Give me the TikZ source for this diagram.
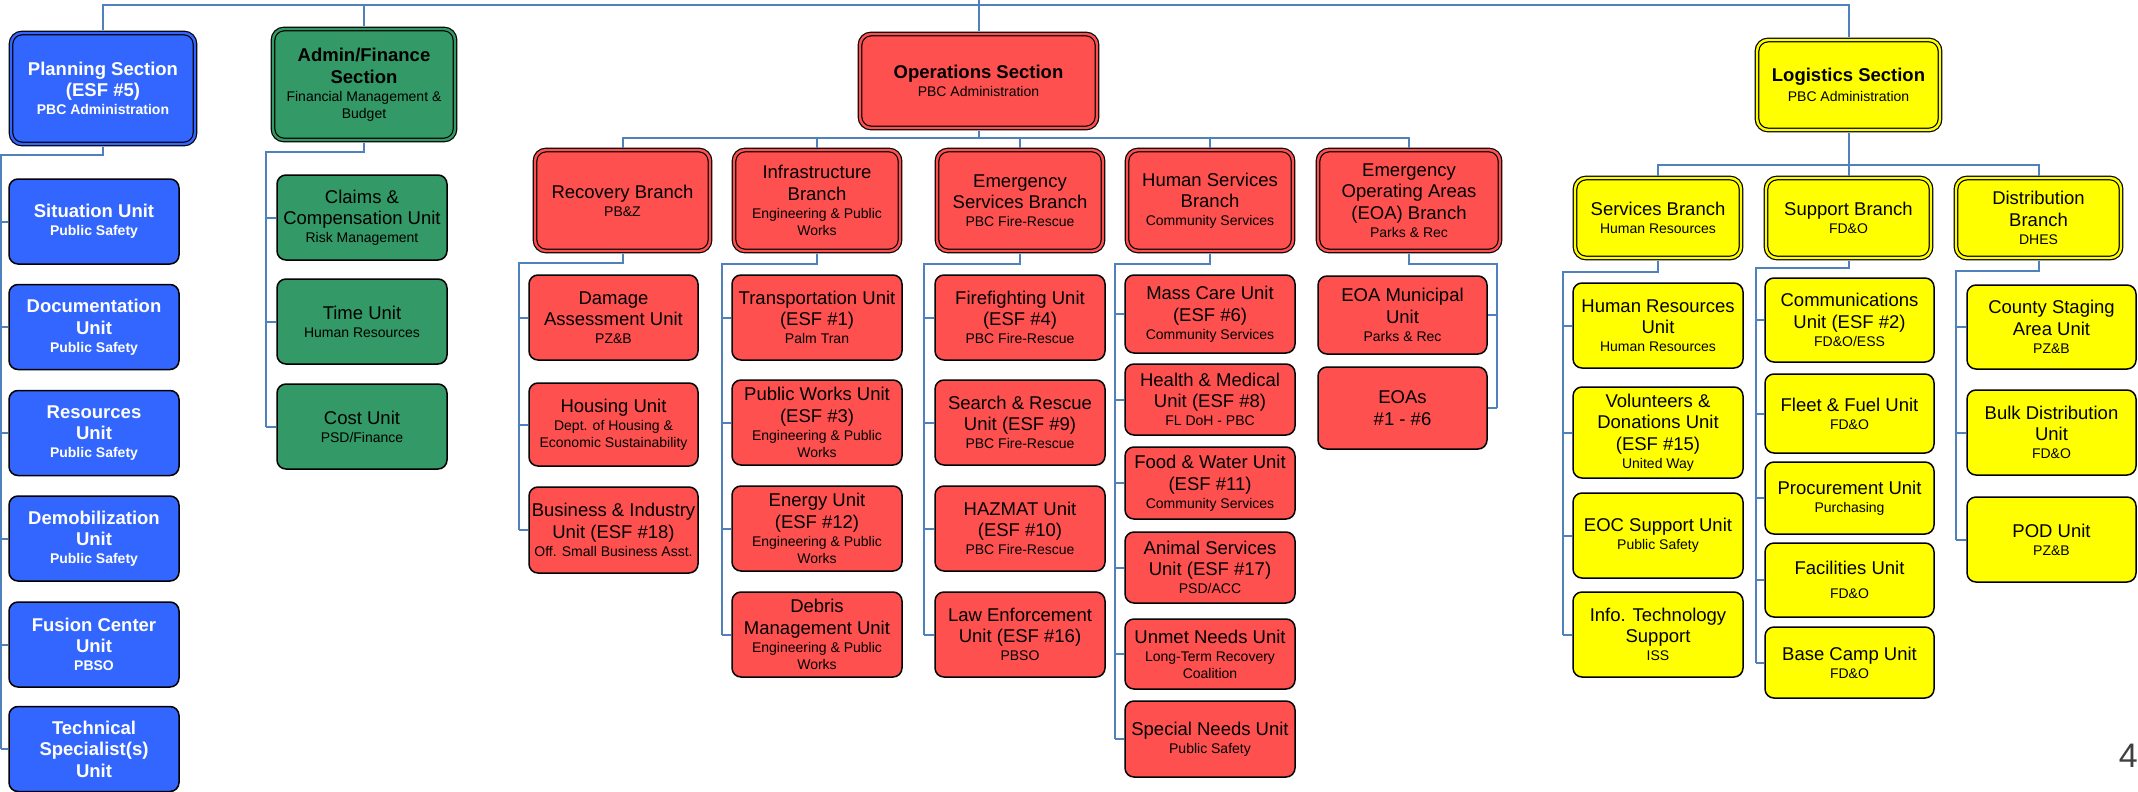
\documentclass[tikz,border=0pt]{standalone}
\usepackage{fontspec}
\setmainfont{Liberation Sans}
\definecolor{planblue}{RGB}{51,102,255}
\definecolor{fingreen}{RGB}{51,153,102}
\definecolor{opsred}{RGB}{255,80,80}
\definecolor{logyellow}{RGB}{255,255,0}
\definecolor{wireblue}{RGB}{79,129,189}
\definecolor{pagegray}{RGB}{64,64,64}
\newcommand{\orgsub}{\fontsize{14}{17}\selectfont}
\tikzset{wire/.style={wireblue, line width=2pt},
  boxtext/.style={align=center, inner sep=1pt, font=\fontsize{18.5}{21.5}\selectfont},
  unitbox/.style={boxtext, draw=black, line width=1.5pt, rounded corners=9pt, fill=#1, minimum width=170pt, minimum height=85pt},
  dblbox/.style={unitbox=#1, line width=1.2pt, double=#1, double distance=2.4pt, rounded corners=11pt, outer sep=2.5pt, minimum width=166pt, minimum height=101pt},
  sectbox/.style={dblbox=#1, font=\bfseries\fontsize{18.5}{21.5}\selectfont},
  planbox/.style={unitbox=planblue, text=white, font=\bfseries\fontsize{18.5}{21.5}\selectfont}}

\begin{document}
\begin{tikzpicture}[x=1pt,y=-1pt]
  \useasboundingbox (0,0) rectangle (2138,792);
  \node[sectbox=planblue, text=white, minimum width=184pt, minimum height=111pt] (plan) at (103,88.5) {Planning Section\\(ESF \#5)\\[-3.5pt]\orgsub PBC Administration};
  \node[sectbox=fingreen, minimum width=182pt, minimum height=111pt] (admin) at (364,84.5) {Admin/Finance\\Section\\[-3.5pt]\orgsub\mdseries Financial Management \&\\[-4.5pt]\orgsub\mdseries Budget};
  \node[sectbox=opsred, minimum width=237pt, minimum height=94pt] (ops) at (978.5,81) {Operations Section\\[-3.5pt]\orgsub\mdseries PBC Administration};
  \node[sectbox=logyellow, minimum width=183pt, minimum height=90pt] (log) at (1848.5,85) {Logistics Section\\[-1pt]\orgsub\mdseries PBC Administration};

  \node[planbox] (sit)   at (94,221.5) {Situation Unit\\[-3.5pt]\orgsub Public Safety};
  \node[planbox] (doc)   at (94,327)   {Documentation\\Unit\\[-3.5pt]\orgsub Public Safety};
  \node[planbox] (res)   at (94,433)   {Resources\\Unit\\[-3.5pt]\orgsub Public Safety};
  \node[planbox] (demob) at (94,538.5) {Demobilization\\Unit\\[-3.5pt]\orgsub Public Safety};
  \node[planbox] (fus)   at (94,644.5) {Fusion Center\\Unit\\[-3.5pt]\orgsub PBSO};
  \node[planbox] (tech)  at (94,749)   {Technical\\Specialist(s)\\Unit};

  \node[unitbox=fingreen] (claims) at (362,217.5) {Claims \&\\Compensation Unit\\[-3.5pt]\orgsub Risk Management};
  \node[unitbox=fingreen] (time)   at (362,321.5) {Time Unit\\[-3.5pt]\orgsub Human Resources};
  \node[unitbox=fingreen] (cost)   at (362,426.5) {Cost Unit\\[-3.5pt]\orgsub PSD/Finance};

  \node[dblbox=opsred, minimum width=175pt] (rec) at (622.5,200.5) {Recovery Branch\\[-3.5pt]\orgsub PB\&Z};
  \node[dblbox=opsred] (inf) at (817,200.5)  {Infrastructure\\Branch\\[-3.5pt]\orgsub Engineering \& Public\\[-4.5pt]\orgsub Works};
  \node[dblbox=opsred] (es)  at (1020,200.5) {Emergency\\Services Branch\\[-3.5pt]\orgsub PBC Fire-Rescue};
  \node[dblbox=opsred] (hs)  at (1210,200.5) {Human Services\\Branch\\[-3.5pt]\orgsub Community Services};
  \node[dblbox=opsred, minimum width=182pt] (eoa) at (1409,200.5) {Emergency\\Operating Areas\\(EOA) Branch\\[-3.5pt]\orgsub Parks \& Rec};

  \node[unitbox=opsred, minimum width=169pt] (dmg) at (613.5,317.5) {Damage\\Assessment Unit\\[-3.5pt]\orgsub PZ\&B};
  \node[unitbox=opsred, minimum width=169pt, minimum height=83pt] (hou) at (613.5,424.5) {Housing Unit\\[-3.5pt]\orgsub Dept. of Housing \&\\[-4.5pt]\orgsub Economic Sustainability};
  \node[unitbox=opsred, minimum width=169pt, minimum height=86pt] (biz) at (613.5,530) {Business \& Industry\\Unit (ESF \#18)\\[-3.5pt]\orgsub Off. Small Business Asst.};

  \node[unitbox=opsred] (trn) at (817,317.5) {Transportation Unit\\(ESF \#1)\\[-3.5pt]\orgsub Palm Tran};
  \node[unitbox=opsred] (pw)  at (817,422.5) {Public Works Unit\\(ESF \#3)\\[-3.5pt]\orgsub Engineering \& Public\\[-4.5pt]\orgsub Works};
  \node[unitbox=opsred] (ene) at (817,528.5) {Energy Unit\\(ESF \#12)\\[-3.5pt]\orgsub Engineering \& Public\\[-4.5pt]\orgsub Works};
  \node[unitbox=opsred] (deb) at (817,634.5) {Debris\\Management Unit\\[-3.5pt]\orgsub Engineering \& Public\\[-4.5pt]\orgsub Works};

  \node[unitbox=opsred] (fire) at (1020,317.5) {Firefighting Unit\\(ESF \#4)\\[-3.5pt]\orgsub PBC Fire-Rescue};
  \node[unitbox=opsred] (sar)  at (1020,422.5) {Search \& Rescue\\Unit (ESF \#9)\\[-3.5pt]\orgsub PBC Fire-Rescue};
  \node[unitbox=opsred] (haz)  at (1020,528.5) {HAZMAT Unit\\(ESF \#10)\\[-3.5pt]\orgsub PBC Fire-Rescue};
  \node[unitbox=opsred] (law)  at (1020,634.5) {Law Enforcement\\Unit (ESF \#16)\\[-3.5pt]\orgsub PBSO};

  \node[unitbox=opsred, minimum height=78pt] (mass)  at (1210,314)   {Mass Care Unit\\(ESF \#6)\\[-3.5pt]\orgsub Community Services};
  \node[unitbox=opsred, minimum height=71pt] (hlth)  at (1210,399.5) {Health \& Medical\\Unit (ESF \#8)\\[-3.5pt]\orgsub FL DoH - PBC};
  \node[unitbox=opsred, minimum height=72pt] (food)  at (1210,483)   {Food \& Water Unit\\(ESF \#11)\\[-3.5pt]\orgsub Community Services};
  \node[unitbox=opsred, minimum height=71pt] (anim)  at (1210,567.5) {Animal Services\\Unit (ESF \#17)\\[-3.5pt]\orgsub PSD/ACC};
  \node[unitbox=opsred, minimum height=70pt] (unmet) at (1210,654)   {Unmet Needs Unit\\[-3.5pt]\orgsub Long-Term Recovery\\[-4.5pt]\orgsub Coalition};
  \node[unitbox=opsred, minimum height=76pt] (spec)  at (1210,739)   {Special Needs Unit\\[-3.5pt]\orgsub Public Safety};

  \node[unitbox=opsred, minimum width=169pt, minimum height=78pt] (muni) at (1402.5,315) {EOA Municipal\\Unit\\[-3.5pt]\orgsub Parks \& Rec};
  \node[unitbox=opsred, minimum width=169pt, minimum height=82pt] (eoas) at (1402.5,408) {EOAs\\\#1 - \#6};

  \node[dblbox=logyellow, minimum height=80pt] (svc) at (1658,218) {Services Branch\\[-3.5pt]\orgsub Human Resources};
  \node[dblbox=logyellow, minimum width=165pt, minimum height=80pt] (sup) at (1848.5,218) {Support Branch\\[-3.5pt]\orgsub FD\&O};
  \node[dblbox=logyellow, minimum width=165pt, minimum height=80pt] (dist) at (2038.5,218) {Distribution\\Branch\\[-3.5pt]\orgsub DHES};

  \node[unitbox=logyellow] (hru) at (1658,325.5) {Human Resources\\Unit\\[-3.5pt]\orgsub Human Resources};
  \node[unitbox=logyellow, minimum height=91pt] (vol) at (1658,432.5) {Volunteers \&\\Donations Unit\\(ESF \#15)\\[-3.5pt]\orgsub United Way};
  \node[unitbox=logyellow] (eoc) at (1658,535.5) {EOC Support Unit\\[-3.5pt]\orgsub Public Safety};
  \node[unitbox=logyellow] (its) at (1658,634.5) {Info. Technology\\Support\\[-3.5pt]\orgsub ISS};

  \node[unitbox=logyellow, minimum width=169pt, minimum height=84pt] (com)  at (1849.5,320)   {Communications\\Unit (ESF \#2)\\[-3.5pt]\orgsub FD\&O/ESS};
  \node[unitbox=logyellow, minimum width=169pt, minimum height=79pt] (flt)  at (1849.5,413.5) {Fleet \& Fuel Unit\\[-3.5pt]\orgsub FD\&O};
  \node[unitbox=logyellow, minimum width=169pt, minimum height=72pt] (proc) at (1849.5,498)   {Procurement Unit\\[-3.5pt]\orgsub Purchasing};
  \node[unitbox=logyellow, minimum width=169pt, minimum height=74pt] (fac)  at (1849.5,580)   {Facilities Unit\\[2pt]\orgsub FD\&O};
  \node[unitbox=logyellow, minimum width=169pt, minimum height=71pt] (base) at (1849.5,662.5) {Base Camp Unit\\[-3.5pt]\orgsub FD\&O};

  \node[unitbox=logyellow, minimum width=169pt, minimum height=84pt] (cty)  at (2051.5,327)   {County Staging\\Area Unit\\[-3.5pt]\orgsub PZ\&B};
  \node[unitbox=logyellow, minimum width=169pt] (bulk) at (2051.5,432.5) {Bulk Distribution\\Unit\\[-3.5pt]\orgsub FD\&O};
  \node[unitbox=logyellow, minimum width=169pt] (pod)  at (2051.5,539.5) {POD Unit\\[-3.5pt]\orgsub PZ\&B};

  \node[font=\fontsize{34}{34}\selectfont, text=pagegray, anchor=base east, inner sep=0pt] (pnum) at (2138,767) {4};

  \coordinate (topin) at (978.5,0);
  \coordinate (topbar) at (978.5,5);
  \draw[wire] (topin) -- (ops.north);
  \draw[wire] (plan.north) |- (topbar) -| (log.north);
  \draw[wire] (admin.north) -- (admin.north |- topbar);

  \coordinate (pbus) at (1,155);
  \draw[wire] (plan.south) |- (pbus) -- (pbus |- tech.west);
  \draw[wire] (pbus |- sit.west) -- (sit.west) (pbus |- doc.west) -- (doc.west) (pbus |- res.west) -- (res.west)
    (pbus |- demob.west) -- (demob.west) (pbus |- fus.west) -- (fus.west) (pbus |- tech.west) -- (tech.west);

  \coordinate (abus) at (266,152);
  \draw[wire] (admin.south) |- (abus) -- (abus |- cost.west);
  \draw[wire] (abus |- claims.west) -- (claims.west) (abus |- time.west) -- (time.west) (abus |- cost.west) -- (cost.west);

  \coordinate (obar) at (978.5,138);
  \draw[wire] (ops.south) -- (obar);
  \draw[wire] (rec.north) |- (obar) -| (eoa.north);
  \draw[wire] (inf.north) -- (inf.north |- obar) (es.north) -- (es.north |- obar) (hs.north) -- (hs.north |- obar);

  \coordinate (rbus) at (519,263);
  \draw[wire] (rec.south) |- (rbus) -- (rbus |- biz.west);
  \draw[wire] (rbus |- dmg.west) -- (dmg.west) (rbus |- hou.west) -- (hou.west) (rbus |- biz.west) -- (biz.west);

  \coordinate (ibus) at (722,264);
  \draw[wire] (inf.south) |- (ibus) -- (ibus |- deb.west);
  \draw[wire] (ibus |- trn.west) -- (trn.west) (ibus |- pw.west) -- (pw.west) (ibus |- ene.west) -- (ene.west) (ibus |- deb.west) -- (deb.west);

  \coordinate (ebus) at (924,264);
  \draw[wire] (es.south) |- (ebus) -- (ebus |- law.west);
  \draw[wire] (ebus |- fire.west) -- (fire.west) (ebus |- sar.west) -- (sar.west) (ebus |- haz.west) -- (haz.west) (ebus |- law.west) -- (law.west);

  \coordinate (hbus) at (1115,264);
  \draw[wire] (hs.south) |- (hbus) -- (hbus |- spec.west);
  \draw[wire] (hbus |- mass.west) -- (mass.west) (hbus |- hlth.west) -- (hlth.west) (hbus |- food.west) -- (food.west)
    (hbus |- anim.west) -- (anim.west) (hbus |- unmet.west) -- (unmet.west) (hbus |- spec.west) -- (spec.west);

  \coordinate (obus) at (1497,264);
  \draw[wire] (eoa.south) |- (obus) -- (obus |- eoas.east);
  \draw[wire] (obus |- muni.east) -- (muni.east) (obus |- eoas.east) -- (eoas.east);

  \coordinate (lbar) at (1848.5,165);
  \draw[wire] (log.south) -- (sup.north);
  \draw[wire] (svc.north) |- (lbar) -| (dist.north);

  \coordinate (sbus) at (1563,272);
  \draw[wire] (svc.south) |- (sbus) -- (sbus |- its.west);
  \draw[wire] (sbus |- hru.west) -- (hru.west) (sbus |- vol.west) -- (vol.west) (sbus |- eoc.west) -- (eoc.west) (sbus |- its.west) -- (its.west);

  \coordinate (ubus) at (1756,268);
  \draw[wire] (sup.south) |- (ubus) -- (ubus |- base.west);
  \draw[wire] (ubus |- com.west) -- (com.west) (ubus |- flt.west) -- (flt.west) (ubus |- proc.west) -- (proc.west)
    (ubus |- fac.west) -- (fac.west) (ubus |- base.west) -- (base.west);

  \coordinate (dbus) at (1956,271);
  \draw[wire] (dist.south) |- (dbus) -- (dbus |- pod.west);
  \draw[wire] (dbus |- cty.west) -- (cty.west) (dbus |- bulk.west) -- (bulk.west) (dbus |- pod.west) -- (pod.west);
\end{tikzpicture}
\end{document}
